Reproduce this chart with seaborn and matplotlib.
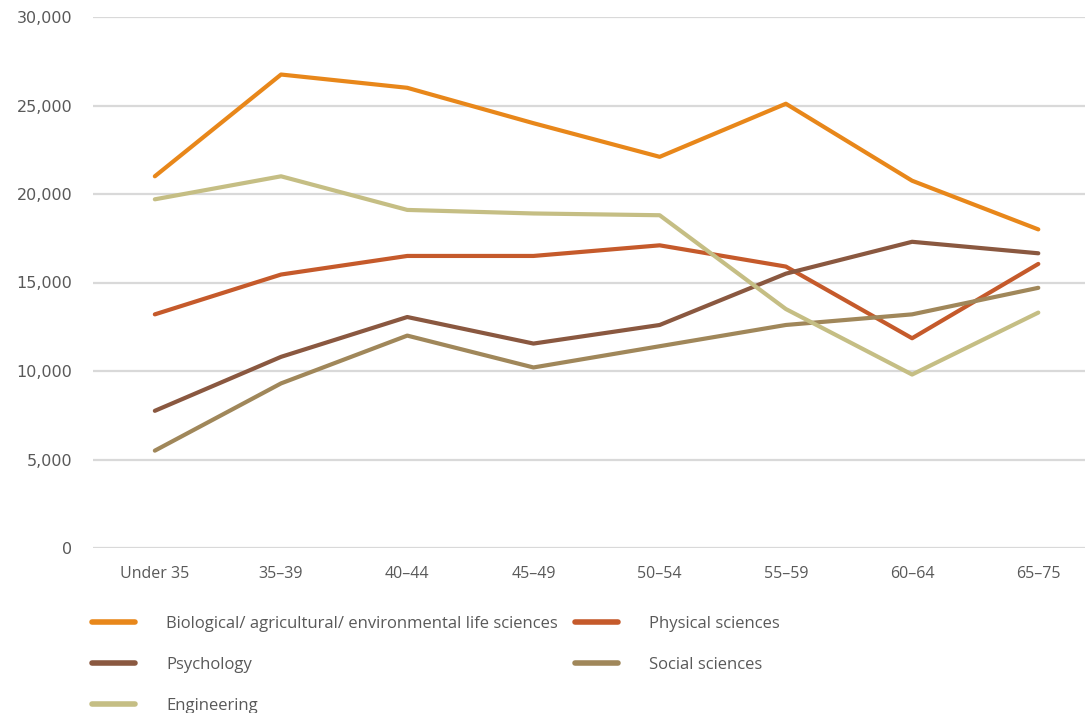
import matplotlib
matplotlib.use("Agg")
import matplotlib.pyplot as plt
import seaborn as sns
import pandas as pd
from matplotlib.ticker import FuncFormatter, MultipleLocator

categories = ["Under 35", "35–39", "40–44", "45–49", "50–54", "55–59", "60–64", "65–75"]
biological = [21000, 26750, 26000, 24000, 22100, 25100, 20750, 18000]
physical = [13200, 15450, 16500, 16500, 17100, 15900, 11850, 16050]
psychology = [7750, 10800, 13050, 11550, 12600, 15500, 17300, 16650]
social = [5500, 9300, 12000, 10200, 11400, 12600, 13200, 14700]
engineering = [19700, 21000, 19100, 18900, 18800, 13500, 9800, 13300]

series_names = [
    "Biological/ agricultural/ environmental life sciences",
    "Physical sciences",
    "Psychology",
    "Social sciences",
    "Engineering",
]
series_values = [biological, physical, psychology, social, engineering]
colors = ["#E8871A", "#C55A2B", "#8A5840", "#A0875A", "#C5BE84"]

rows = []
for name, vals in zip(series_names, series_values):
    for c, v in zip(categories, vals):
        rows.append({"age": c, "value": v, "series": name})
df = pd.DataFrame(rows)

sns.set_theme(style="white")
plt.rcParams["font.family"] = ["DejaVu Sans"]

fig = plt.figure(figsize=(10.88, 7.13), dpi=100)
ax = fig.add_axes([93 / 1088, 1 - 548 / 713, 992 / 1088, 531 / 713])

sns.lineplot(data=df, x="age", y="value", hue="series", hue_order=series_names,
             palette=colors, linewidth=3.0, sort=False, ax=ax, legend=False)
for ln in ax.get_lines():
    ln.set_solid_capstyle("round")
    ln.set_solid_joinstyle("round")

ax.set_xlim(-0.49, 7.37)
ax.set_ylim(0, 30000)
ax.yaxis.set_major_locator(MultipleLocator(5000))
ax.yaxis.set_major_formatter(FuncFormatter(lambda v, p: f"{int(v):,}"))
ax.grid(axis="y", color="#D9D9D9", linewidth=1.6)
ax.grid(axis="x", visible=False)
ax.set_axisbelow(True)
for s in ax.spines.values():
    s.set_visible(False)
ax.set_xlabel("")
ax.set_ylabel("")
ax.tick_params(axis="both", length=0)
ax.tick_params(axis="y", pad=15, labelsize=11.5, labelcolor="#595959")
ax.tick_params(axis="x", pad=13, labelsize=11.5, labelcolor="#595959")
for t in ax.get_xticklabels():
    t.set_fontfamily("Open Sans")

lines = ax.get_lines()
handles = {name: ln for name, ln in zip(series_names, lines)}

leg_kw = dict(frameon=False, handlelength=2.6, handletextpad=1.85,
              labelspacing=1.5, borderpad=0, borderaxespad=0, labelcolor="#595959",
              prop={"family": "Open Sans", "size": 12})
col1 = [series_names[0], series_names[2], series_names[4]]
col2 = [series_names[1], series_names[3]]
leg1 = fig.legend([handles[n] for n in col1], col1, loc="upper left",
                  bbox_to_anchor=(92 / 1088, 1 - 616 / 713), **leg_kw)
leg2 = fig.legend([handles[n] for n in col2], col2, loc="upper left",
                  bbox_to_anchor=(575 / 1088, 1 - 616 / 713), **leg_kw)
for lg in (leg1, leg2):
    for h in lg.legend_handles:
        h.set_linewidth(4)
        h.set_solid_capstyle("round")

fig.savefig("out.png", dpi=100)
